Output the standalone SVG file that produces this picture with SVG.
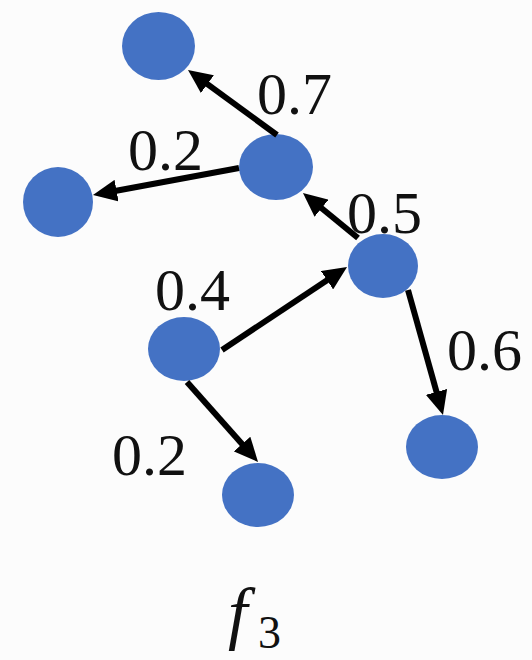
<svg xmlns="http://www.w3.org/2000/svg" width="532" height="660" viewBox="0 0 532 660">
<style>
.node{fill:#4472C4;}
.edge{stroke:#000;stroke-width:6;fill:none;marker-end:url(#ah);}
.lbl{font-family:"Liberation Serif",serif;font-size:60px;fill:#111;}
</style>
<defs>
<marker id="ah" markerUnits="userSpaceOnUse" markerWidth="24" markerHeight="22" refX="14" refY="11" orient="auto">
<path d="M0,0 L24,11 L0,22 z" fill="#000"/>
</marker>
</defs>
<rect width="532" height="660" fill="#fcfcfc"/>
<g id="nodeA"><ellipse class="node" cx="158.5" cy="46" rx="36.5" ry="34"/></g>
<g id="nodeB"><ellipse class="node" cx="276" cy="167" rx="37" ry="33"/></g>
<g id="nodeC"><ellipse class="node" cx="58" cy="202" rx="35" ry="35"/></g>
<g id="nodeD"><ellipse class="node" cx="383" cy="266" rx="35" ry="32"/></g>
<g id="nodeE"><ellipse class="node" cx="184" cy="349" rx="36" ry="32"/></g>
<g id="nodeF"><ellipse class="node" cx="442" cy="447" rx="36" ry="32"/></g>
<g id="nodeG"><ellipse class="node" cx="258" cy="495" rx="36" ry="32"/></g>
<g id="connectors">
<line class="edge" x1="277" y1="135" x2="196.1" y2="75.9"/>
<line class="edge" x1="239" y1="168" x2="102.8" y2="193.2"/>
<line class="edge" x1="358" y1="238" x2="310.7" y2="199.3"/>
<line class="edge" x1="222" y1="350" x2="338.7" y2="272.5"/>
<line class="edge" x1="408" y1="290" x2="440.3" y2="405.4"/>
<line class="edge" x1="187" y1="382" x2="251.4" y2="454.5"/>
</g>
<g id="labels">
<text class="lbl" x="257" y="114">0.7</text>
<text class="lbl" x="128" y="170">0.2</text>
<text class="lbl" x="347" y="233">0.5</text>
<text class="lbl" x="155" y="310">0.4</text>
<text class="lbl" x="447" y="370">0.6</text>
<text class="lbl" x="112" y="475">0.2</text>
</g>
<g id="title">
<text x="228" y="636" font-family="Liberation Serif,serif" font-style="italic" font-size="70" fill="#111">f</text>
<text x="258" y="648" font-family="Liberation Serif,serif" font-size="46" fill="#111">3</text>
</g>
</svg>
